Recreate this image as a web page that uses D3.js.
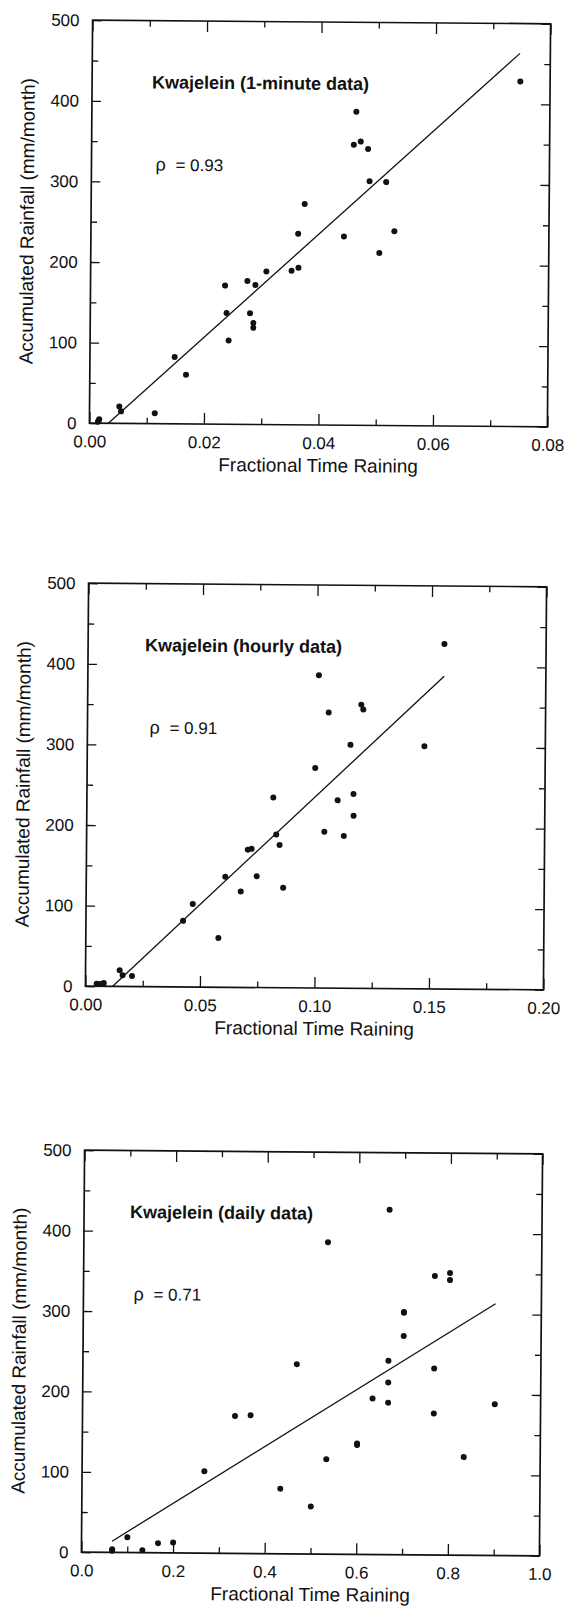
<!DOCTYPE html>
<html>
<head>
<meta charset="utf-8">
<script src="https://cdn.jsdelivr.net/npm/d3@7"></script>
<style>
  body { margin: 0; background: #fff; }
  svg { display: block; }
</style>
</head>
<body>
<div id="chart"></div>
<script>
// values (three panels, same 31 months)
const minuteFrac = [0.0015, 0.0016, 0.0017, 0.0052, 0.0055, 0.0114, 0.0148, 0.0168, 0.0235, 0.0238, 0.0242,
    0.0274, 0.0288, 0.0279, 0.0285, 0.0285, 0.0307, 0.0351, 0.0363, 0.0362, 0.0373, 0.0442,
    0.0462, 0.0458, 0.0470, 0.0483, 0.0486, 0.0515, 0.0530, 0.0504, 0.0748];
const minuteRain = [2, 3, 5, 21, 15, 13, 83, 61, 172, 138, 104,
    178, 173, 138, 126, 120, 190, 191, 195, 237, 274, 234,
    389, 348, 352, 343, 303, 302, 241, 214, 428];

const hourlyFrac = [0.0049, 0.0065, 0.0080, 0.0149, 0.0162, 0.0203, 0.0424, 0.0466, 0.0579, 0.0607, 0.0675,
    0.0704, 0.0721, 0.0744, 0.0814, 0.0828, 0.0843, 0.0860, 0.0996, 0.1009, 0.1053, 0.1038,
    0.1095, 0.1123, 0.1149, 0.1164, 0.1165, 0.1195, 0.1204, 0.1472, 0.1556];
const hourlyRain = [3, 3, 4, 20, 14, 13, 82, 103, 61, 137, 119,
    171, 172, 138, 236, 190, 177, 124, 273, 388, 342, 194,
    233, 189, 302, 241, 214, 352, 346, 301, 428];

const dailyFrac = [0.067, 0.067, 0.1, 0.133, 0.167, 0.2, 0.267, 0.333, 0.367, 0.433, 0.467,
    0.5, 0.533, 0.533, 0.6, 0.6, 0.633, 0.667, 0.667, 0.667, 0.667, 0.7,
    0.7, 0.7, 0.767, 0.767, 0.767, 0.8, 0.8, 0.833, 0.9];
const dailyRain = [2, 4, 19, 3, 12, 13, 102, 171, 172, 81, 236,
    59, 388, 118, 136, 138, 194, 429, 241, 214, 189, 302,
    301, 272, 347, 232, 176, 351, 342, 122, 188];

// fitted lines (end points) and correlation labels
const minuteFit = [[0.0033, 0], [0.0747, 463]];
const hourlyFit = [[0.0118, 0], [0.1556, 388]];
const dailyFit = [[0.0667, 14], [0.9, 313]];

const panelTitles = ["Kwajelein (1-minute data)", "Kwajelein (hourly data)", "Kwajelein (daily data)"];
const rhoLabels = ["= 0.93", "= 0.91", "= 0.71"];

const rainTicks = [0, 100, 200, 300, 400, 500];
const rainMinor = [50, 150, 250, 350, 450];
const minuteTicks = [0, 0.02, 0.04, 0.06, 0.08];
const minuteMinor = [0.01, 0.03, 0.05, 0.07];
const hourlyTicks = [0, 0.05, 0.10, 0.15, 0.20];
const hourlyMinor = [0.025, 0.075, 0.125, 0.175];
const dailyTicks = [0, 0.2, 0.4, 0.6, 0.8, 1.0];
const dailyMinor = [0.1, 0.3, 0.5, 0.7, 0.9];

const width = 567;
const height = 1606;
const ink = "#111";
const font = "'Liberation Sans', Arial, Helvetica, sans-serif";

const panels = [
    { left: 91, top: 22, w: 458, h: 403, xMax: 0.08, frac: minuteFrac, rain: minuteRain, fit: minuteFit,
      ticks: minuteTicks, minor: minuteMinor, fmt: d3.format(".2f"), titleX: 60, rhoX: 64 },
    { left: 87, top: 585, w: 458, h: 403, xMax: 0.20, frac: hourlyFrac, rain: hourlyRain, fit: hourlyFit,
      ticks: hourlyTicks, minor: hourlyMinor, fmt: d3.format(".2f"), titleX: 57, rhoX: 62 },
    { left: 83, top: 1152, w: 458, h: 402, xMax: 1.0, frac: dailyFrac, rain: dailyRain, fit: dailyFit,
      ticks: dailyTicks, minor: dailyMinor, fmt: d3.format(".1f"), titleX: 46, rhoX: 50 }
];

const svg = d3.select("#chart")
    .append("svg")
    .attr("width", width)
    .attr("height", height)
    .style("font-family", font);

svg.append("rect").attr("width", width).attr("height", height).attr("fill", "#fff");

panels.forEach(function(p, i) {
    // the scan is a touch rotated
    const g = svg.append("g")
        .attr("transform", `translate(${p.left},${p.top}) rotate(0.45, ${p.w / 2}, ${p.h / 2})`);

    const x = d3.scaleLinear().domain([0, p.xMax]).range([0, p.w]);
    const y = d3.scaleLinear().domain([0, 500]).range([p.h, 0]);

    // major ticks with labels (bottom, left), plain ticks top/right, all pointing in
    const bottom = g.append("g")
        .attr("transform", `translate(0,${p.h})`)
        .call(d3.axisBottom(x).tickValues(p.ticks).tickFormat(p.fmt).tickSize(-11).tickPadding(12));
    bottom.selectAll("text").attr("font-size", "17px").attr("font-family", font).attr("fill", ink);

    g.append("g")
        .attr("transform", `translate(0,${p.h})`)
        .call(d3.axisBottom(x).tickValues(p.minor).tickFormat("").tickSize(-6));
    g.append("g")
        .call(d3.axisTop(x).tickValues(p.ticks).tickFormat("").tickSize(-11));
    g.append("g")
        .call(d3.axisTop(x).tickValues(p.minor).tickFormat("").tickSize(-6));

    const left = g.append("g")
        .call(d3.axisLeft(y).tickValues(rainTicks).tickFormat(d3.format("d")).tickSize(-9).tickPadding(13));
    left.selectAll("text").attr("font-size", "17px").attr("font-family", font).attr("fill", ink);

    g.append("g")
        .call(d3.axisLeft(y).tickValues(rainMinor).tickFormat("").tickSize(-6));
    g.append("g")
        .attr("transform", `translate(${p.w},0)`)
        .call(d3.axisRight(y).tickValues(rainTicks).tickFormat("").tickSize(-9));
    g.append("g")
        .attr("transform", `translate(${p.w},0)`)
        .call(d3.axisRight(y).tickValues(rainMinor).tickFormat("").tickSize(-6));

    g.selectAll(".domain").remove();
    g.selectAll(".tick line").attr("stroke", ink).attr("stroke-width", 1.3);

    // frame
    g.append("rect")
        .attr("width", p.w)
        .attr("height", p.h)
        .attr("fill", "none")
        .attr("stroke", ink)
        .attr("stroke-width", 1.7);

    // fitted line
    g.append("path")
        .datum(p.fit)
        .attr("d", d3.line().x(d => x(d[0])).y(d => y(d[1])))
        .attr("fill", "none")
        .attr("stroke", ink)
        .attr("stroke-width", 1.3);

    // monthly points
    g.selectAll(".dot")
        .data(p.frac.map((f, k) => [f, p.rain[k]]))
        .enter()
        .append("circle")
        .attr("class", "dot")
        .attr("cx", d => x(d[0]))
        .attr("cy", d => y(d[1]))
        .attr("r", 3)
        .attr("fill", ink);

    // panel label and correlation
    g.append("text")
        .attr("x", p.titleX)
        .attr("y", y(416))
        .attr("font-size", "18px")
        .attr("font-weight", "bold")
        .attr("fill", ink)
        .text(panelTitles[i]);

    g.append("text")
        .attr("x", p.rhoX)
        .attr("y", y(314))
        .attr("font-size", "18px")
        .attr("fill", ink)
        .text("\u03c1");
    g.append("text")
        .attr("x", p.rhoX + 20)
        .attr("y", y(314))
        .attr("font-size", "17px")
        .attr("fill", ink)
        .text(rhoLabels[i]);

    // axis titles
    g.append("text")
        .attr("x", p.w / 2)
        .attr("y", p.h + 47)
        .attr("text-anchor", "middle")
        .attr("font-size", "19px")
        .attr("fill", ink)
        .text("Fractional Time Raining");

    g.append("text")
        .attr("transform", `translate(-64,${p.h / 2}) rotate(-90)`)
        .attr("dy", "0.35em")
        .attr("text-anchor", "middle")
        .attr("font-size", "19px")
        .attr("fill", ink)
        .text("Accumulated Rainfall (mm/month)");
});
</script>
</body>
</html>
